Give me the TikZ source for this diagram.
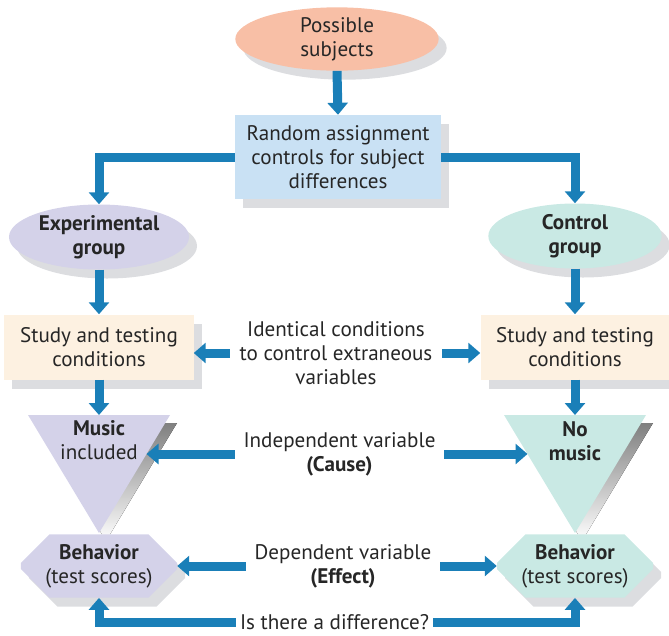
\documentclass[tikz,border=0pt]{standalone}
\usepackage{fontspec}
\setmainfont{PT Sans}
\usetikzlibrary{arrows.meta,shapes.geometric,shapes.misc,shadows}
\definecolor{salmon}{HTML}{F8BFA6}
\definecolor{skyblue}{HTML}{C9E1F4}
\definecolor{lilac}{HTML}{D4D2E9}
\definecolor{mint}{HTML}{C9E9E4}
\definecolor{cream}{HTML}{FDF1E1}
\definecolor{shade}{HTML}{DCDDE0}
\definecolor{flowblue}{HTML}{1A7FB8}
\tikzset{
  txt/.style={font=\fontsize{18}{20.5}\selectfont, align=center, text=black!85, inner sep=0pt},
  bold/.style={txt, font=\fontsize{18}{20.5}\selectfont\bfseries},
  shd/.style={drop shadow={shadow xshift=0.24cm, shadow yshift=-0.27cm, fill=shade, opacity=1}},
  blob/.style={ellipse, shd},
  panel/.style={rectangle, shd},
  octo/.style={chamfered rectangle, chamfered rectangle xsep=0.5cm, chamfered rectangle ysep=0.5cm, inner ysep=-0.3cm, shd, minimum width=4.68cm, minimum height=1.9cm},
  flow/.style={draw=flowblue, line width=0.27cm, -{Triangle[length=0.36cm,width=0.6cm]}},
}
\begin{document}
\begin{tikzpicture}[x=0.03cm, y=-0.03cm]
% mida del dibuix: 669 x 635
\useasboundingbox (0,0) rectangle (669,635);

% capçalera
\node[txt, blob, fill=salmon, minimum width=6.1cm, minimum height=1.9cm] (subj) at (337,39) {Possible\\subjects};
\node[txt, panel, fill=skyblue, minimum width=6.18cm, minimum height=2.52cm] (rand) at (338,157) {Random assignment\\controls for subject\\differences};

\node[bold, blob, fill=lilac, minimum width=5.4cm, minimum height=1.95cm] (expg) at (99,237) {Experimental\\group};
\node[bold, blob, fill=mint, minimum width=5.2cm, minimum height=1.95cm] (ctlg) at (575,236) {Control\\group};

\node[txt, panel, fill=cream, minimum width=5.67cm, minimum height=1.95cm] (studyL) at (99,347) {Study and testing\\conditions};
\node[txt, panel, fill=cream, minimum width=5.67cm, minimum height=1.95cm] (studyR) at (575,347) {Study and testing\\conditions};

% triangles
\fill[shade] (35,423) -- (177,423) -- (106,541) -- cycle;
\fill[lilac] (28,415) -- (170,415) -- (99,533) -- cycle;
\fill[shade] (511,423) -- (653,423) -- (582,541) -- cycle;
\fill[mint] (504,415) -- (646,415) -- (575,533) -- cycle;
\coordinate (triLtop) at (99,415);
\coordinate (triRtop) at (575,415);
\coordinate (triLside) at (146.5,454);
\coordinate (triRside) at (527.5,454);
\node[txt] (musL) at (99,440) {\textbf{Music}\\included};
\node[bold] (musR) at (575,441) {No\\music};

\node[txt, octo, fill=lilac] (behL) at (99,566) {\textbf{Behavior}\\(test scores)};
\node[txt, octo, fill=mint] (behR) at (575,566) {\textbf{Behavior}\\(test scores)};

% textos del mig
\node[txt, minimum width=6.36cm] (ident) at (336,353) {Identical conditions\\to control extraneous\\variables};
\node[txt, minimum width=6.27cm] (indep) at (339.5,454) {Independent variable\\\textbf{(Cause)}};
\node[txt, minimum width=5.82cm] (dep) at (343,566) {Dependent variable\\\textbf{(Effect)}};
\node[txt, minimum width=5.91cm] (diff) at (334.5,622) {Is there a difference?};

% fletxes
\draw[flow] (subj.south) -- (rand.north);
\draw[flow] (rand.west) -| (expg.north);
\draw[flow] (rand.east) -| (ctlg.north);
\draw[flow] (expg.south) -- (studyL.north);
\draw[flow] (ctlg.south) -- (studyR.north);
\draw[flow] (studyL.south) -- (triLtop);
\draw[flow] (studyR.south) -- (triRtop);
\draw[flow] (ident.west) -- (ident.west -| studyL.east);
\draw[flow] (ident.east) -- (ident.east -| studyR.west);
\draw[flow] (indep.west) -- (triLside);
\draw[flow] (indep.east) -- (triRside);
\draw[flow] (dep.west) -- (behL.east);
\draw[flow] (dep.east) -- (behR.west);
\draw[flow] (diff.west) -| (behL.south);
\draw[flow] (diff.east) -| (behR.south);

\end{tikzpicture}
\end{document}
